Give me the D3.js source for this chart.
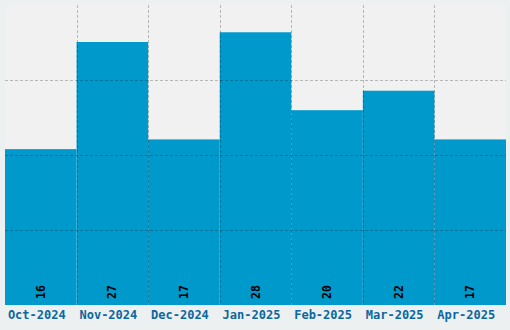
<!DOCTYPE html>
<html>
<head>
<meta charset="utf-8">
<script src="https://cdn.jsdelivr.net/npm/d3@7"></script>
<style>
  body { margin: 0; background: #edf0f0; }
  svg { display: block; }
</style>
</head>
<body>
<div id="chart"></div>
<script>
// data
const months = ["Oct-2024", "Nov-2024", "Dec-2024", "Jan-2025", "Feb-2025", "Mar-2025", "Apr-2025"]
const counts = [16, 27, 17, 28, 20, 22, 17]

const W = 510, H = 330
const margin = {top: 5, right: 4, bottom: 25, left: 5}
const width = W - margin.left - margin.right
const height = H - margin.top - margin.bottom

const svg = d3.select("#chart")
  .append("svg")
  .attr("width", W)
  .attr("height", H)
  .style("background", "#edf0f0")

const g = svg.append("g")
  .attr("transform", `translate(${margin.left},${margin.top})`)

const x = d3.scaleBand()
  .domain(months)
  .range([0, width])
  .padding(0)

// 10% headroom above the biggest bar
const y = d3.scaleLinear()
  .domain([0, d3.max(counts) * 1.1])
  .range([height, 0])

g.append("rect")
  .attr("width", width)
  .attr("height", height)
  .attr("fill", "#f1f1f1")

// bars
g.selectAll(".bar")
  .data(counts)
  .enter()
  .append("rect")
  .attr("class", "bar")
  .attr("x", (d, i) => x(months[i]))
  .attr("width", x.bandwidth())
  .attr("y", d => y(d))
  .attr("height", d => height - y(d))
  .attr("fill", "#0099cc")

// grid, drawn over the bars
const gridStyle = sel => sel
  .attr("stroke", "rgba(0,0,0,0.24)")
  .attr("stroke-width", 1)
  .attr("stroke-dasharray", "3,2")
  .attr("shape-rendering", "crispEdges")

const yMax = y.domain()[1]
const hLines = [0.25, 0.5, 0.75].map(f => f * yMax)
g.selectAll(".hgrid")
  .data(hLines)
  .enter()
  .append("line")
  .attr("x1", 0).attr("x2", width)
  .attr("y1", d => Math.round(y(d)) + 0.5)
  .attr("y2", d => Math.round(y(d)) + 0.5)
  .call(gridStyle)

g.selectAll(".vgrid")
  .data(months.slice(1))
  .enter()
  .append("line")
  .attr("x1", d => Math.round(x(d)) + 0.5)
  .attr("x2", d => Math.round(x(d)) + 0.5)
  .attr("y1", 0).attr("y2", height)
  .call(gridStyle)

// value labels, rotated at the bottom of each bar
g.selectAll(".val")
  .data(counts)
  .enter()
  .append("text")
  .attr("transform", (d, i) => `translate(${x(months[i]) + x.bandwidth() / 2 + 4},${height - 6}) rotate(-90)`)
  .attr("font-family", "DejaVu Sans Mono, monospace")
  .attr("font-weight", "bold")
  .attr("font-size", "11.5px")
  .attr("fill", "#000")
  .text(d => d)

// x axis labels
const xAxis = g.append("g")
  .attr("transform", `translate(0,${height})`)
  .call(d3.axisBottom(x).tickSize(0).tickPadding(5))
xAxis.select(".domain").remove()
xAxis.selectAll("text")
  .attr("x", -4)
  .attr("font-family", "DejaVu Sans Mono, monospace")
  .attr("font-weight", "bold")
  .attr("font-size", "12px")
  .attr("fill", "#0b67a0")
</script>
</body>
</html>
